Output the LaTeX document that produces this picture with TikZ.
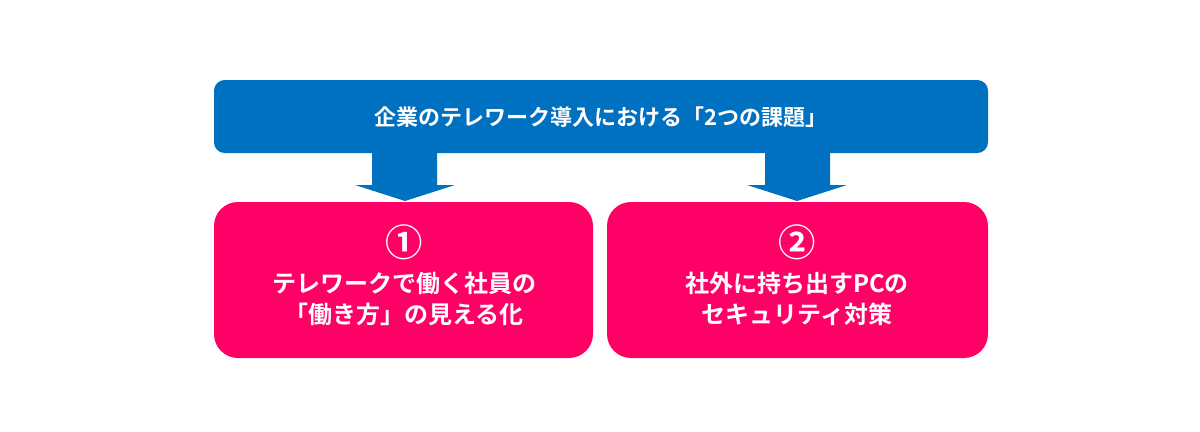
\documentclass[tikz,border=0pt]{standalone}
\usepackage{fontspec}
\newfontfamily\cjk{Noto Sans CJK JP Bold}
\definecolor{topblue}{HTML}{0070C0}
\definecolor{pink}{HTML}{FF0066}
\begin{document}
\begin{tikzpicture}[x=0.75pt,y=-0.75pt,
  lbl/.style={text=white,font=\cjk,align=center}]
\useasboundingbox (0,0) rectangle (1200,432);
\fill[topblue,rounded corners=8] (214,80) rectangle (988,153);
\node[lbl,font=\cjk\fontsize{16.5}{20}\selectfont] (top) at (601,117) {企業のテレワーク導入における「2つの課題」};
\fill[topblue] (372,150) -- (437,150) -- (437,185) -- (455,185) -- (405,201) -- (355,185) -- (372,185) -- cycle;
\fill[topblue] (765,150) -- (830,150) -- (830,185) -- (847,185) -- (797,201) -- (747,185) -- (765,185) -- cycle;
\fill[pink,rounded corners=18] (214,202) rectangle (593,358);
\fill[pink,rounded corners=18] (607,202) rectangle (988,358);
\node[lbl,font=\cjk\fontsize{28}{30}\selectfont] (n1) at (404,242) {①};
\node[lbl,font=\cjk\fontsize{18}{23.5}\selectfont] (t1) at (404,299) {テレワークで働く社員の\\「働き方」の見える化};
\node[lbl,font=\cjk\fontsize{28}{30}\selectfont] (n2) at (797,242) {②};
\node[lbl,font=\cjk\fontsize{18}{23.5}\selectfont] (t2) at (797,299) {社外に持ち出すPCの\\セキュリティ対策};
\end{tikzpicture}
\end{document}
